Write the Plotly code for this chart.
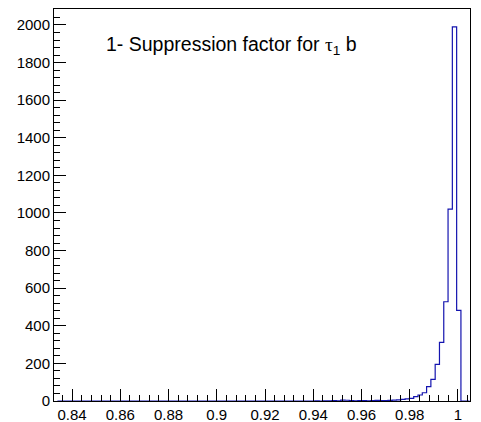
import plotly.graph_objects as go

# ---- data ----
bin_start = 0.83392
bin_width = 0.00178
n_bins = 96
counts = [0] * 60 + [
    1, 0, 1, 1, 2, 1, 5, 4, 2, 1, 2, 2, 1, 2, 3, 2, 2,      # bins 60-76
    3, 5, 6, 9, 11, 14, 23, 32, 44, 76, 115, 195, 312,       # bins 77-89
    528, 1021, 1990, 482, 0, 0                               # bins 90-95
]
x_tick_vals = [0.84, 0.86, 0.88, 0.90, 0.92, 0.94, 0.96, 0.98, 1.00]
x_tick_text = ["0.84", "0.86", "0.88", "0.9", "0.92", "0.94", "0.96", "0.98", "1"]
y_tick_vals = [0, 200, 400, 600, 800, 1000, 1200, 1400, 1600, 1800, 2000]
y_tick_text = [str(v) for v in y_tick_vals]
title_text = ("1- Suppression factor for "
              "<span style='font-family:\"Liberation Serif\",\"Times New Roman\",serif'>τ</span>"
              "<sub>1</sub> b")

edges = [bin_start + i * bin_width for i in range(n_bins + 1)]
ys = counts + [counts[-1]]

fig = go.Figure()
fig.add_trace(go.Scatter(
    x=edges, y=ys, mode="lines", line=dict(shape="hv", color="rgb(20,20,175)", width=1.2),
    hoverinfo="skip", showlegend=False))

font = "Liberation Sans, Arial, Helvetica, sans-serif"
# page body has an 8px margin, so the figure is sized/offset to compensate
fig.update_layout(
    width=473, height=414,
    margin=dict(l=46, r=11, t=1, b=21, autoexpand=False),
    paper_bgcolor="white", plot_bgcolor="white",
    font=dict(family=font, size=15, color="black"),
    xaxis=dict(
        range=[0.8325, 1.005], showgrid=False, zeroline=False,
        showline=True, linecolor="black", linewidth=1, mirror=True,
        tickmode="array", tickvals=x_tick_vals, ticktext=x_tick_text,
        ticks="inside", ticklen=12, tickcolor="black", tickwidth=1,
        minor=dict(ticks="inside", ticklen=6, tickcolor="black", tickwidth=1,
                   tickmode="linear", tick0=0.84, dtick=0.004, showgrid=False),
        tickfont=dict(family=font, size=15, color="black"),
        automargin=False, fixedrange=True,
    ),
    yaxis=dict(
        range=[0, 2085], showgrid=False, zeroline=False,
        showline=True, linecolor="black", linewidth=1, mirror=True,
        tickmode="array", tickvals=y_tick_vals, ticktext=y_tick_text,
        ticks="inside", ticklen=12, tickcolor="black", tickwidth=1,
        minor=dict(ticks="inside", ticklen=6, tickcolor="black", tickwidth=1,
                   tickmode="linear", tick0=0, dtick=40, showgrid=False),
        tickfont=dict(family=font, size=15, color="black"),
        automargin=False, fixedrange=True,
    ),
    annotations=[dict(
        text=title_text, xref="paper", yref="paper", x=0.120, y=0.908,
        xanchor="left", yanchor="middle", showarrow=False,
        font=dict(family=font, size=19.5, color="black"))],
)

fig.write_html("out.html")
